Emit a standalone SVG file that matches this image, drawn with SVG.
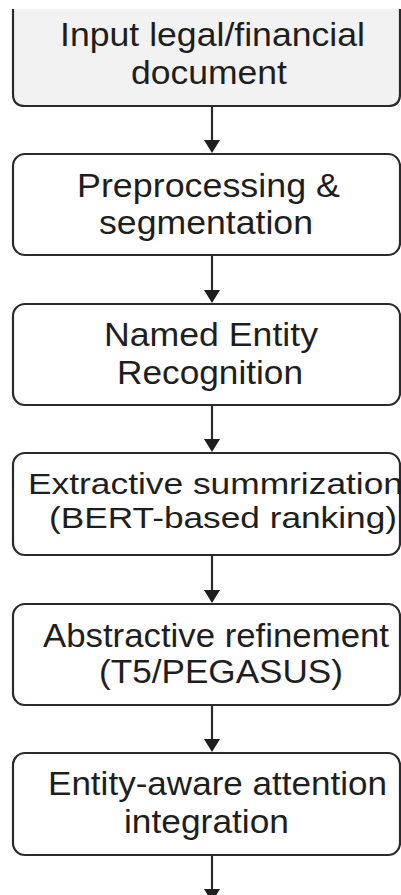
<svg xmlns="http://www.w3.org/2000/svg" width="401" height="895" viewBox="0 0 401 895">
<style>
.box{fill:#ffffff;stroke:#2a2a2a;stroke-width:2.2}
.first{fill:#f2f2f2;stroke:#2a2a2a;stroke-width:2.2}
.lbl{font-family:"Liberation Sans",Arial,sans-serif;font-size:33px;fill:#1e1e1e}
.tight{font-size:30px}
.conn{stroke:#2a2a2a;stroke-width:2.2;fill:none}
</style>
<rect width="401" height="895" fill="#ffffff"/>
<g id="node1">
<path class="first" d="M13,9 V94 Q13,106 25,106 H388 Q400,106 400,94 V9"/>
<text class="lbl" x="60" y="46" textLength="305" lengthAdjust="spacingAndGlyphs">Input legal/financial</text>
<text class="lbl" x="131" y="84" textLength="156" lengthAdjust="spacingAndGlyphs">document</text>
</g>
<g id="node2">
<rect class="box" x="13" y="154" width="387" height="101" rx="12"/>
<text class="lbl" x="77" y="197" textLength="263" lengthAdjust="spacingAndGlyphs">Preprocessing &amp;</text>
<text class="lbl" x="99" y="234" textLength="214" lengthAdjust="spacingAndGlyphs">segmentation</text>
</g>
<g id="node3">
<rect class="box" x="13" y="304" width="387" height="101" rx="12"/>
<text class="lbl" x="104" y="346" textLength="214" lengthAdjust="spacingAndGlyphs">Named Entity</text>
<text class="lbl" x="117" y="384" textLength="186" lengthAdjust="spacingAndGlyphs">Recognition</text>
</g>
<g id="node4">
<rect class="box" x="13" y="453" width="387" height="102" rx="12"/>
<text class="lbl tight" x="28" y="494" textLength="375" lengthAdjust="spacingAndGlyphs">Extractive summrization</text>
<text class="lbl tight" x="49" y="528" textLength="348" lengthAdjust="spacingAndGlyphs">(BERT-based ranking)</text>
</g>
<g id="node5">
<rect class="box" x="13" y="604" width="387" height="101" rx="12"/>
<text class="lbl" x="43" y="647" textLength="346" lengthAdjust="spacingAndGlyphs">Abstractive refinement</text>
<text class="lbl" x="99" y="683" textLength="244" lengthAdjust="spacingAndGlyphs">(T5/PEGASUS)</text>
</g>
<g id="node6">
<rect class="box" x="13" y="753" width="387" height="102" rx="12"/>
<text class="lbl" x="48" y="795" textLength="339" lengthAdjust="spacingAndGlyphs">Entity-aware attention</text>
<text class="lbl" x="124" y="833" textLength="165" lengthAdjust="spacingAndGlyphs">integration</text>
</g>
<g id="connectors">
<line class="conn" x1="212" y1="107" x2="212" y2="140"/>
<line class="conn" x1="212" y1="256" x2="212" y2="290"/>
<line class="conn" x1="212" y1="406" x2="212" y2="439"/>
<line class="conn" x1="212" y1="556" x2="212" y2="590"/>
<line class="conn" x1="212" y1="706" x2="212" y2="739"/>
<line class="conn" x1="212" y1="856" x2="212" y2="889"/>
<path d="M204,140 L220,140 L212,153 Z M204,290 L220,290 L212,303 Z M204,439 L220,439 L212,452 Z M204,590 L220,590 L212,603 Z M204,739 L220,739 L212,752 Z M204,889 L220,889 L212,902 Z" fill="#1e1e1e"/>
</g>
</svg>
